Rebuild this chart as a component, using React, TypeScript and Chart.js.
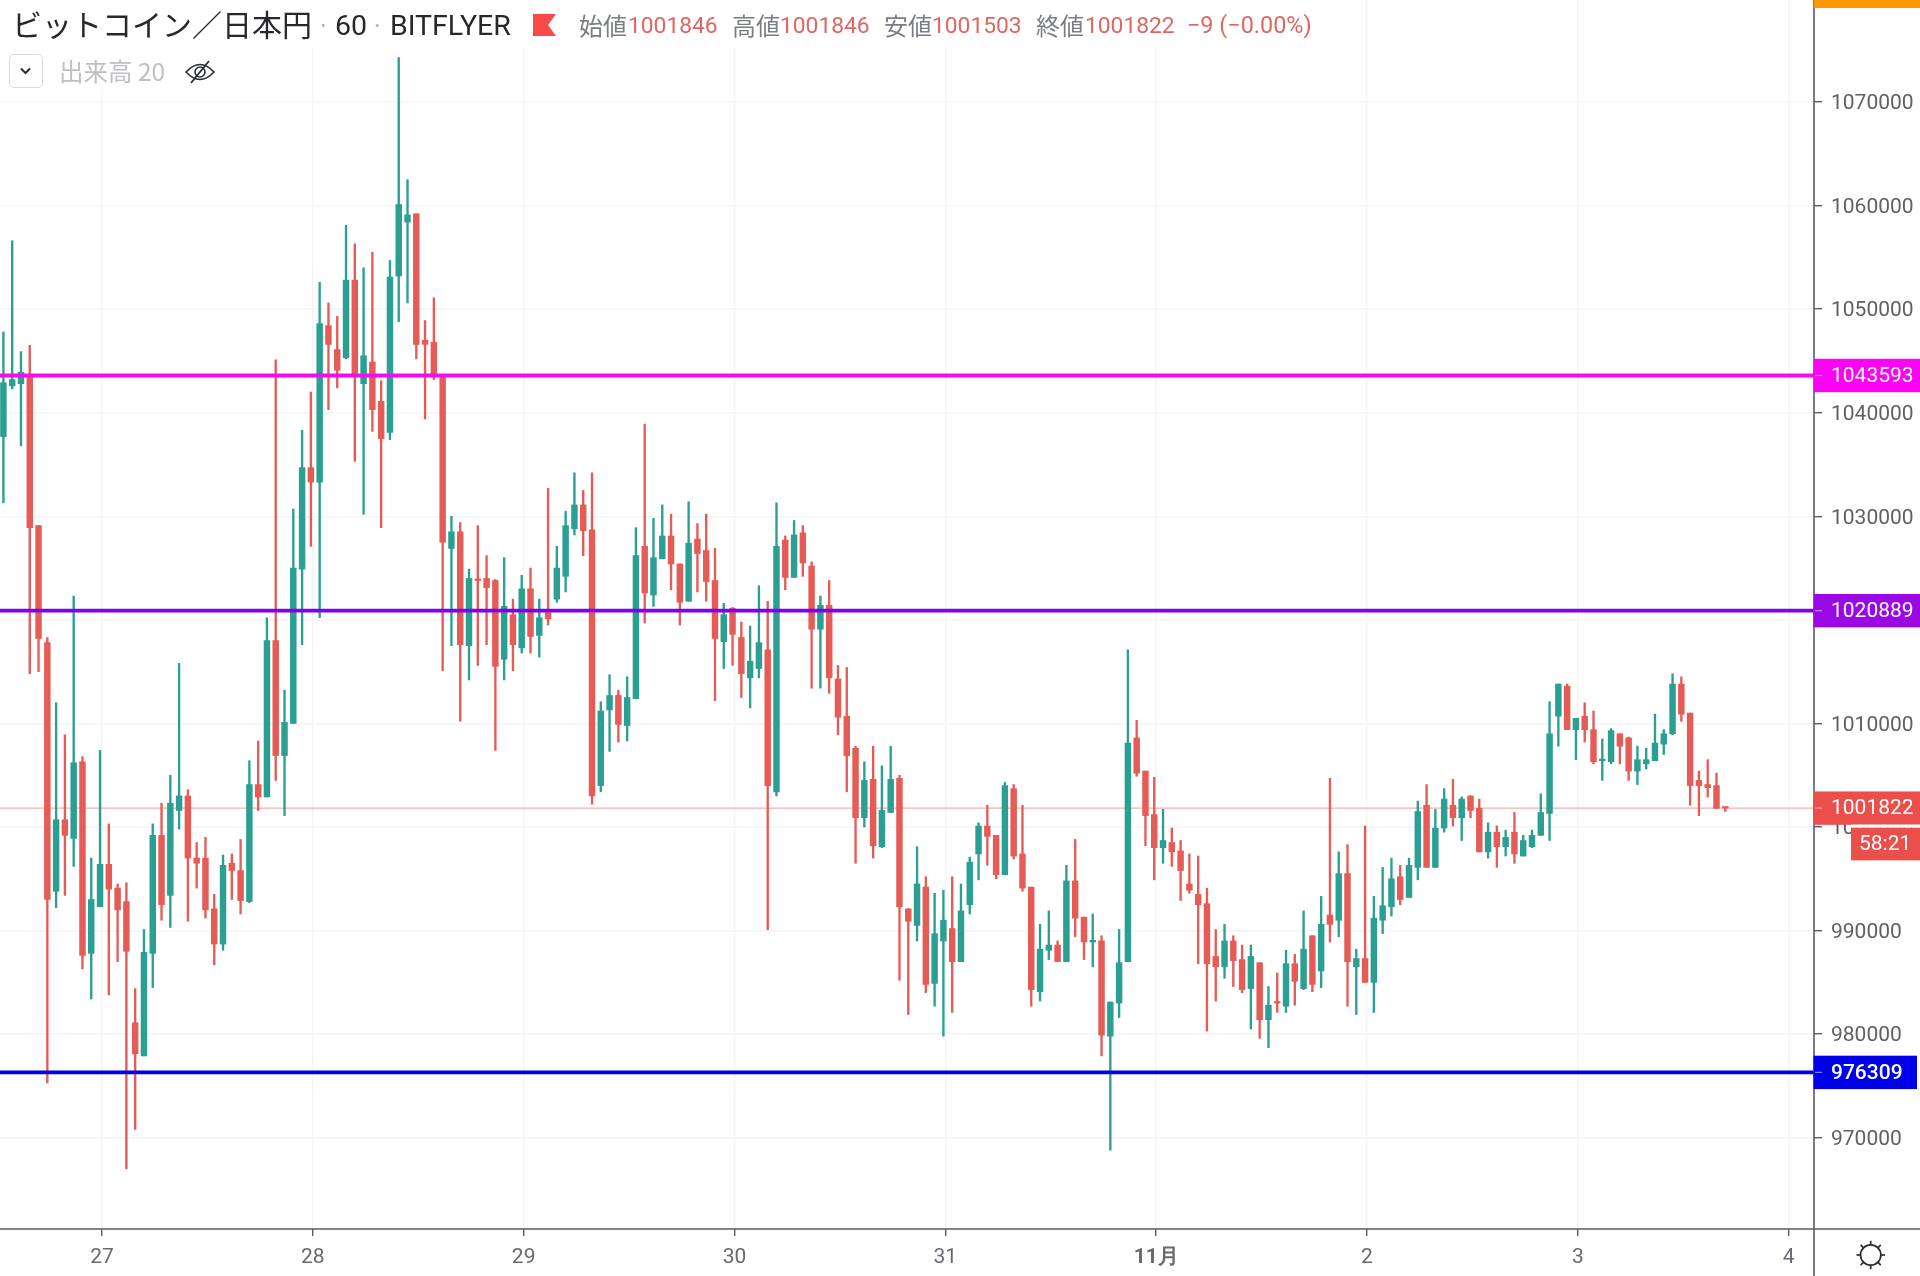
import React, { useEffect, useRef } from "react";
import { Chart, registerables } from "chart.js";

Chart.register(...registerables);

const highs = [1047800,1056600,1045900,1046500,1029100,1018300,1012000,1008900,1022300,1006800,997000,1007400,1000300,994500,994600,984400,990100,1000300,1002300,1005000,1015800,1003600,998500,999000,993500,997300,997400,998800,1006400,1008300,1020200,1045100,1013200,1030700,1038300,1042000,1052600,1050600,1049300,1058100,1056300,1054000,1055500,1043100,1054700,1074300,1062500,1059200,1048900,1051100,1043600,1030000,1029400,1024900,1029100,1026200,1023900,1026000,1022000,1024300,1025000,1022000,1032700,1027100,1030500,1034200,1032500,1034200,1012100,1014700,1013200,1014500,1028900,1038900,1029800,1031100,1030200,1025400,1031400,1029300,1030200,1026900,1021600,1021200,1019800,1019400,1023300,1021800,1031300,1028100,1029600,1029100,1025600,1022300,1023800,1015600,1015400,1007800,1006300,1007800,1005900,1007800,1005000,992100,998100,995200,993600,993900,995200,994500,997100,1000400,1002100,999200,1004300,1004100,1002100,994200,990600,991900,989000,996300,998800,991300,991600,989500,983100,990100,1017100,1010300,1005400,1004800,1001700,999900,998700,997400,997200,994100,990100,990600,989500,988600,988600,986900,984600,985900,988100,987700,991900,989500,993300,1004700,997600,998300,988200,1000100,993300,996100,997000,996300,997000,1002500,1004100,1001700,1003700,1004600,1002900,1003000,1002700,1000400,1000100,999700,1001400,999200,999700,1003200,1012100,1013800,1013800,1010500,1012000,1011200,1008500,1009500,1009000,1008700,1007800,1007600,1010900,1009400,1014800,1014500,1011000,1005400,1006500,1005200,1001846];
const opens = [1037700,1042600,1042800,1043600,1029100,1017800,993800,1000700,998900,1006300,987800,992300,996400,994100,992800,981100,977900,987800,999200,993400,1001600,1003000,997000,997000,992100,988700,996500,995800,992800,1004100,1002900,1018000,1006900,1010000,1024900,1034700,1033300,1048400,1046100,1045300,1052800,1042800,1044900,1041100,1038100,1053200,1058400,1059200,1047000,1046800,1043600,1026900,1028500,1017500,1023900,1024000,1023800,1016200,1020500,1017300,1023000,1018500,1020700,1022000,1024200,1028800,1031100,1028700,1004000,1011300,1012700,1009800,1012400,1027100,1022400,1025900,1028100,1025400,1021800,1027800,1026700,1023800,1017900,1021100,1018300,1014400,1015300,1017100,1003400,1027700,1024100,1028400,1025200,1019100,1021400,1014300,1010700,1007600,1000900,1004600,998100,1001400,1004700,992100,990500,994200,984900,989000,990200,987000,992500,997400,1000100,999200,995400,1003700,997400,994200,984100,988100,988600,987000,994800,991300,988900,989000,979800,983000,987000,1008600,1005400,1001200,998000,998500,997700,994500,993500,992600,987500,986500,989000,987200,984400,986900,981400,983100,982700,986800,984400,989500,986100,991500,991000,995500,986500,987300,985000,991000,992300,995200,993200,996100,1002100,996100,999900,1002100,1000900,1003000,1001800,997600,999500,998100,999500,997200,998100,999200,1001300,1010700,1013600,1009400,1010700,1009400,1006400,1006300,1009000,1008600,1005400,1006100,1006400,1008000,1009000,1013800,1011000,1004500,1004100,1004000,1001846];
const closes = [1042900,1043200,1043900,1028900,1018200,993000,1000700,999200,1006200,987600,993000,996400,994000,992000,988000,978100,987900,999200,992500,1002300,1003000,997000,996500,992000,988700,996300,995800,992900,1004100,1002900,1018000,1006900,1010100,1025000,1034700,1033300,1048600,1046600,1044100,1052800,1043500,1045500,1040300,1037500,1053100,1060100,1059100,1046600,1046600,1043600,1027500,1028500,1017600,1024000,1023800,1023100,1015500,1021300,1017600,1023000,1018400,1020200,1020100,1025000,1029100,1031100,1028600,1003000,1011200,1012700,1009900,1012500,1026200,1022600,1026000,1028100,1025400,1021700,1027400,1026400,1023700,1018200,1020500,1018600,1014800,1016000,1017800,1004000,1027100,1024100,1028200,1025500,1019100,1021400,1014400,1010600,1006900,1000900,1004500,998200,1001600,1004600,992300,990900,994500,984800,989700,991000,987000,991900,996600,1000100,999100,995400,1004000,997200,994100,984300,988200,988600,987000,994800,991200,988900,989000,979900,983100,986900,1008100,1005200,1001100,998000,998700,997600,995800,993900,992500,986800,986500,989000,987100,984300,987500,981400,982800,983000,986800,985100,988200,984800,990600,990600,995500,987000,987300,985000,991200,992400,995000,993000,996300,1001500,996100,999900,1002700,1000900,1002700,1001600,997600,999500,998100,999000,997400,998700,999200,1001400,1009000,1013800,1009400,1010500,1009400,1006300,1006500,1009300,1007800,1005400,1006500,1006500,1008100,1009000,1013800,1010900,1004000,1004000,1003800,1001800,1001822];
const lows = [1031300,1042300,1036800,1014800,1015000,975300,992200,993400,996200,986300,983400,992300,983800,987000,967000,970800,977900,984500,991000,990300,999800,990900,994100,991200,986700,988100,993000,991600,992700,1001600,1002900,1004500,1001100,1010000,1017600,1027100,1020200,1040300,1042400,1045200,1035300,1030200,1038200,1028900,1037400,1048800,1050600,1045200,1039400,1043200,1015100,1017500,1010200,1014200,1015600,1017600,1007400,1014200,1015100,1016800,1016800,1016400,1019500,1021700,1022700,1028200,1026200,1002200,1003400,1007300,1008200,1008300,1012400,1019700,1021300,1025900,1022900,1019500,1021800,1022700,1021800,1012200,1015300,1015600,1012500,1011500,1014400,990100,1003000,1022900,1024100,1024200,1013400,1013400,1012900,1008900,1003400,996500,1000000,997000,998000,1001400,985200,981900,989000,984000,982700,979800,982100,987000,991600,994900,996300,995000,995400,996900,993800,982700,983200,987200,987000,987000,989400,987200,986500,977900,968800,981600,987000,1004900,998200,994900,996500,996200,992900,993600,986800,980300,983200,985400,984600,984000,980500,979600,978700,982100,982100,982800,984300,984100,984500,988900,989400,982700,981900,985000,982100,989700,991400,992500,993200,994900,996100,996100,999500,1000100,998700,1000900,997600,997000,996100,997200,996500,997200,998000,999200,998700,1007800,1009400,1006500,1008200,1006100,1004500,1006100,1006100,1004500,1004100,1005600,1006400,1007000,1008900,1010200,1002100,1001100,1002900,1001800,1001503];

const firstHourIndex = 11.22;
const hoursPerDay = 24;
const dayLabels = ["27", "28", "29", "30", "31", "11月", "2", "3", "4"];
const priceTicks = [970000, 980000, 990000, 1000000, 1010000, 1020000, 1030000, 1040000, 1050000, 1060000, 1070000];
const levels = [
  { value: 1043593, color: "#F50CEE", tag: "#FB04F4" },
  { value: 1020889, color: "#8400EC", tag: "#9A08E4" },
  { value: 976309, color: "#0000E8", tag: "#0000EA" },
];
const lastPrice = 1001822;
const countdown = "58:21";

const UP = "#2A9F92";
const DOWN = "#E55B56";
const AXIS = "#5A5C60";
const GRID = "#F3F4F6";
const PLOT_RIGHT_GUTTER = 106;
const AXIS_BOTTOM = 47;

const headerBits: [string, number, number, string, string, number][] = [
  ["ビットコイン／日本円", 12, 30, "#26282C", "'Noto Sans CJK JP'", 23],
  ["·", 320, 24, "#B5B7BB", "'Noto Sans'", 25],
  ["60", 335, 28.5, "#26282C", "Roboto", 26],
  ["·", 374, 24, "#B5B7BB", "'Noto Sans'", 25],
  ["BITFLYER", 390, 28.5, "#26282C", "Roboto", 26],
  ["始値", 579, 24, "#7A7D83", "'Noto Sans CJK JP'", 25],
  ["1001846", 628, 22.8, "#DF6662", "Roboto", 26],
  ["高値", 732, 24, "#7A7D83", "'Noto Sans CJK JP'", 25],
  ["1001846", 780, 22.8, "#DF6662", "Roboto", 26],
  ["安値", 884, 24, "#7A7D83", "'Noto Sans CJK JP'", 25],
  ["1001503", 932, 22.8, "#DF6662", "Roboto", 26],
  ["終値", 1036, 24, "#7A7D83", "'Noto Sans CJK JP'", 25],
  ["1001822", 1085, 22.8, "#DF6662", "Roboto", 26],
  ["−9 (−0.00%)", 1187, 23.4, "#DF6662", "Roboto", 26],
];

const overlay = {
  id: "overlay",
  beforeDatasetsDraw(chart: any) {
    const c = chart.ctx;
    c.save();
    c.fillStyle = "#fff";
    c.fillRect(0, 0, 1320, 47);
    c.fillRect(0, 47, 215, 43);
    c.restore();
  },
  afterDraw(chart: any) {
    const c = chart.ctx as CanvasRenderingContext2D;
    const y = chart.scales.y;
    const R = chart.chartArea.right;
    const W = chart.width;
    const H = chart.height;
    const B = chart.chartArea.bottom;
    c.save();
    c.strokeStyle = AXIS;
    c.lineWidth = 1.6;
    c.beginPath();
    c.moveTo(R, 0);
    c.lineTo(R, H);
    c.moveTo(0, B);
    c.lineTo(W, B);
    c.stroke();
    c.fillStyle = "#FF9800";
    c.fillRect(R, 0, W - R, 8);

    const tag = (value: number, bg: string, right: number, bold = false) => {
      const py = y.getPixelForValue(value);
      c.fillStyle = bg;
      c.fillRect(R - 0.5, py - 16.7, right - R + 0.5, 33.4);
      c.strokeStyle = "rgba(255,255,255,0.5)";
      c.lineWidth = 1.2;
      c.beginPath();
      c.moveTo(R + 1, py);
      c.lineTo(R + 8, py);
      c.stroke();
      c.fillStyle = "#fff";
      c.font = `${bold ? 500 : 400} 21px Roboto`;
      c.textAlign = "left";
      c.textBaseline = "middle";
      c.fillText(String(value), R + 17, py + 1);
    };
    tag(levels[0].value, levels[0].tag, W);
    tag(levels[1].value, levels[1].tag, W);
    tag(levels[2].value, levels[2].tag, 1917, true);
    tag(lastPrice, "#EB4F4B", W);

    const py = y.getPixelForValue(lastPrice);
    c.fillStyle = "#fff";
    c.fillRect(1851, py + 16.4, W - 1851, 3.2);
    c.fillStyle = "#EB4F4B";
    c.fillRect(1851, py + 19.6, W - 1851, 32.6);
    c.fillStyle = "#fff";
    c.font = "400 21px Roboto";
    c.textAlign = "left";
    c.textBaseline = "middle";
    c.fillText(countdown, 1859, py + 37);

    // sun icon of the time-axis corner
    const sx = 1870.7;
    const sy = 1255;
    c.strokeStyle = "#2A2C30";
    c.lineWidth = 1.7;
    c.beginPath();
    c.arc(sx, sy, 10.2, 0, Math.PI * 2);
    c.stroke();
    for (let k = 0; k < 8; k++) {
      const a = (k * Math.PI) / 4;
      const r0 = k % 2 ? 9.5 : 10.5;
      const r1 = 14.2;
      c.beginPath();
      c.moveTo(sx + Math.cos(a) * r0, sy + Math.sin(a) * r0);
      c.lineTo(sx + Math.cos(a) * r1, sy + Math.sin(a) * r1);
      c.stroke();
    }
    c.restore();
  },
};

export default function App() {
  const ref = useRef<HTMLCanvasElement>(null);
  useEffect(() => {
    document.body.style.margin = "0";
    document.body.style.background = "#fff";
    const xOf = (i: number) => i;
    const barColors = closes.map((v, i) => (v >= opens[i] ? UP : DOWN));
    const xMin = -0.387;
    const xMax = 206.1;
    const flat = (value: number) => [
      { x: xMin, y: value },
      { x: xMax, y: value },
    ];
    const chart = new Chart(ref.current as HTMLCanvasElement, {
      type: "bar",
      data: {
        datasets: [
          ...levels.map((l, i) => ({
            type: "line" as const,
            label: String(l.value),
            data: flat(l.value),
            borderColor: l.color,
            borderWidth: 3.8,
            pointRadius: 0,
            order: i,
          })),
          {
            type: "bar" as const,
            label: "body",
            data: opens.map((o, i) => ({ x: xOf(i), y: [o, closes[i]] })),
            backgroundColor: barColors,
            barThickness: 5.8,
            minBarLength: 1.6,
            grouped: false,
            order: 5,
          },
          {
            type: "bar" as const,
            label: "wick",
            data: highs.map((h, i) => ({ x: xOf(i), y: [lows[i], h] })),
            backgroundColor: barColors,
            barThickness: 1.7,
            grouped: false,
            order: 6,
          },
          {
            type: "line" as const,
            label: "last",
            data: flat(lastPrice),
            borderColor: "#F6AFAD",
            borderWidth: 1.2,
            pointRadius: 0,
            order: 7,
          },
        ] as any,
      },
      options: {
        responsive: false,
        animation: false,
        devicePixelRatio: 1,
        layout: { padding: 0 },
        plugins: { legend: { display: false }, tooltip: { enabled: false } },
        scales: {
          x: {
            type: "linear",
            min: xMin,
            max: xMax,
            offset: false,
            border: { display: false },
            grid: { offset: false, color: GRID, lineWidth: 1.4, tickColor: AXIS, tickLength: 7 },
            afterBuildTicks: (s: any) => {
              s.ticks = dayLabels.map((_, k) => ({ value: firstHourIndex + k * hoursPerDay }));
            },
            afterFit: (s: any) => {
              s.height = AXIS_BOTTOM;
              s.paddingLeft = 0;
              s.paddingRight = 0;
            },
            ticks: {
              autoSkip: false,
              maxRotation: 0,
              padding: 9,
              color: "#686A70",
              font: (ctx: any) => ({
                family: "Roboto",
                size: 21,
                weight: dayLabels[ctx.index] === "11月" ? "bold" : "normal",
              }),
              callback: (_v: any, i: number) => dayLabels[i],
            },
          },
          y: {
            type: "linear",
            position: "right",
            min: 961188,
            max: 1079848,
            border: { display: false },
            grid: { color: GRID, lineWidth: 1.4, tickColor: AXIS, tickLength: 8 },
            afterBuildTicks: (s: any) => {
              s.ticks = priceTicks.map((value) => ({ value }));
            },
            afterFit: (s: any) => {
              s.width = PLOT_RIGHT_GUTTER;
              s.paddingTop = 0;
              s.paddingBottom = 0;
            },
            ticks: {
              padding: 9,
              labelOffset: 2,
              color: "#5E6066",
              font: { family: "Roboto", size: 21 },
              callback: (v: any) => String(v),
            },
          },
        },
      } as any,
      plugins: [overlay],
    });
    return () => chart.destroy();
  }, []);

  return (
    <div style={{ position: "relative", width: 1920, height: 1276, overflow: "hidden", background: "#fff" }}>
      <canvas ref={ref} width={1920} height={1276} style={{ position: "absolute", left: 0, top: 0, display: "block" }} />
      {headerBits.map(([text, left, size, color, family, top], i) => (
        <span
          key={i}
          style={{
            position: "absolute",
            left,
            top,
            transform: "translateY(-50%)",
            fontSize: size,
            color,
            fontFamily: family,
            whiteSpace: "nowrap",
            lineHeight: 1,
          }}
        >
          {text}
        </span>
      ))}
      <svg width={26} height={24} viewBox="0 0 26 24" style={{ position: "absolute", left: 532, top: 13 }}>
        <path d="M1 1 H24 L16 12 L24 23 H1 Z" fill="#F94A4B" />
      </svg>
      <div
        style={{
          position: "absolute",
          left: 9,
          top: 54,
          width: 34,
          height: 34,
          boxSizing: "border-box",
          border: "1.5px solid #D8DADE",
          borderRadius: 5,
        }}
      >
        <svg width={31} height={31} viewBox="0 0 31 31" style={{ display: "block" }}>
          <path d="M11 13.5 L15.5 18 L20 13.5" fill="none" stroke="#2A2C30" strokeWidth={2} />
        </svg>
      </div>
      <span
        style={{
          position: "absolute",
          left: 59,
          top: 71,
          transform: "translateY(-50%)",
          fontSize: 24.5,
          lineHeight: 1,
          color: "#BDBFC3",
          fontFamily: "'Noto Sans CJK JP'",
          whiteSpace: "nowrap",
        }}
      >
        出来高 20
      </span>
      <svg width={32} height={28} viewBox="0 0 32 28" style={{ position: "absolute", left: 184, top: 58 }}>
        <path d="M2 14 Q16 -1 30 14 Q16 29 2 14 Z" fill="none" stroke="#2A2C30" strokeWidth={1.6} />
        <circle cx={16} cy={14} r={5} fill="none" stroke="#2A2C30" strokeWidth={1.6} />
        <path d="M7 25 L25 3" stroke="#2A2C30" strokeWidth={1.8} />
      </svg>
    </div>
  );
}
